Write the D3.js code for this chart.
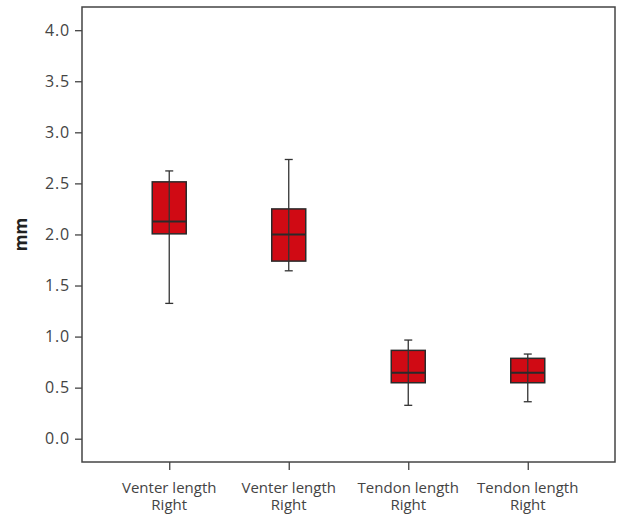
<!DOCTYPE html>
<html lang="en">
<head>
  <meta charset="UTF-8">
  <title>Box plot</title>
  <script src="https://d3js.org/d3.v7.min.js"></script>
  <style>
    body { margin: 0; background: #fff; font-family: "Open Sans", sans-serif; }
    .tick text { fill: #444; }
  </style>
</head>
<body>
  <div id="chart"></div>
  <script>
    // data (mm)
    const categories = [["Venter length", "Right"], ["Venter length", "Right"], ["Tendon length", "Right"], ["Tendon length", "Right"]];
    const whiskerLow = [1.325, 1.644, 0.327, 0.362];
    const q1 = [2.006, 1.739, 0.548, 0.548];
    const median = [2.127, 2.0, 0.646, 0.646];
    const q3 = [2.515, 2.25, 0.865, 0.787];
    const whiskerHigh = [2.622, 2.734, 0.966, 0.829];
    const yTicks = [0, 0.5, 1, 1.5, 2, 2.5, 3, 3.5, 4];

    const width = 617, height = 514;
    const m = { left: 82, right: 615, top: 7, bottom: 462 };

    const svg = d3.select("#chart").append("svg")
      .attr("width", width)
      .attr("height", height);

    const x = d3.scalePoint()
      .domain(d3.range(categories.length))
      .range([m.left, m.right])
      .padding(0.73);

    const y = d3.scaleLinear()
      .domain([-0.228, 4.227])
      .range([m.bottom, m.top]);

    // frame
    svg.append("rect")
      .attr("x", m.left).attr("y", m.top)
      .attr("width", m.right - m.left).attr("height", m.bottom - m.top)
      .attr("fill", "none").attr("stroke", "#444").attr("stroke-width", 1.5);

    const yAxis = svg.append("g")
      .attr("transform", `translate(${m.left},0)`)
      .call(d3.axisLeft(y).tickValues(yTicks).tickFormat(d3.format(".1f")).tickSize(7).tickPadding(5));
    yAxis.select(".domain").remove();
    yAxis.selectAll("line").attr("stroke", "#444").attr("stroke-width", 1.3);
    yAxis.selectAll("text")
      .attr("font-size", 16)
      .attr("letter-spacing", 0.8)
      .attr("font-family", "Open Sans");

    const xAxis = svg.append("g")
      .attr("transform", `translate(0,${m.bottom})`)
      .call(d3.axisBottom(x).tickSize(8).tickFormat(""));
    xAxis.select(".domain").remove();
    xAxis.selectAll("line").attr("stroke", "#444").attr("stroke-width", 1.3);

    // two-line category labels
    svg.append("g").selectAll("text")
      .data(categories)
      .join("text")
      .attr("y", 493)
      .attr("text-anchor", "middle")
      .attr("font-size", 15)
      .attr("fill", "#444")
      .each(function (d, i) {
        d3.select(this).selectAll("tspan")
          .data(d)
          .join("tspan")
          .attr("x", x(i))
          .attr("dy", (p, k) => k === 0 ? 0 : 17)
          .text(p => p);
      });

    // y title
    svg.append("text")
      .attr("transform", `translate(27,${(m.top + m.bottom) / 2}) rotate(-90)`)
      .attr("text-anchor", "middle")
      .attr("font-size", 17)
      .attr("font-weight", "bold")
      .attr("fill", "#222")
      .text("mm");

    // boxes
    const boxW = 34, capW = 8;
    const g = svg.append("g").selectAll("g")
      .data(d3.range(categories.length))
      .join("g");

    g.append("line")
      .attr("x1", i => x(i)).attr("x2", i => x(i))
      .attr("y1", i => y(whiskerLow[i])).attr("y2", i => y(whiskerHigh[i]))
      .attr("stroke", "#333").attr("stroke-width", 1.3);

    g.selectAll(".cap")
      .data(i => [whiskerLow[i], whiskerHigh[i]].map(v => ({ i, v })))
      .join("line")
      .attr("class", "cap")
      .attr("x1", d => x(d.i) - capW / 2).attr("x2", d => x(d.i) + capW / 2)
      .attr("y1", d => y(d.v)).attr("y2", d => y(d.v))
      .attr("stroke", "#333").attr("stroke-width", 1.3);

    g.append("rect")
      .attr("x", i => x(i) - boxW / 2)
      .attr("y", i => y(q3[i]))
      .attr("width", boxW)
      .attr("height", i => y(q1[i]) - y(q3[i]))
      .attr("fill", "#d00a14")
      .attr("stroke", "#2a2a2a").attr("stroke-width", 1.5);

    // whisker line shows through the box
    g.append("line")
      .attr("x1", i => x(i)).attr("x2", i => x(i))
      .attr("y1", i => y(q1[i])).attr("y2", i => y(q3[i]))
      .attr("stroke", "#333").attr("stroke-width", 1.3);

    g.append("line")
      .attr("x1", i => x(i) - boxW / 2).attr("x2", i => x(i) + boxW / 2)
      .attr("y1", i => y(median[i])).attr("y2", i => y(median[i]))
      .attr("stroke", "#2a2a2a").attr("stroke-width", 2);
  </script>
</body>
</html>
